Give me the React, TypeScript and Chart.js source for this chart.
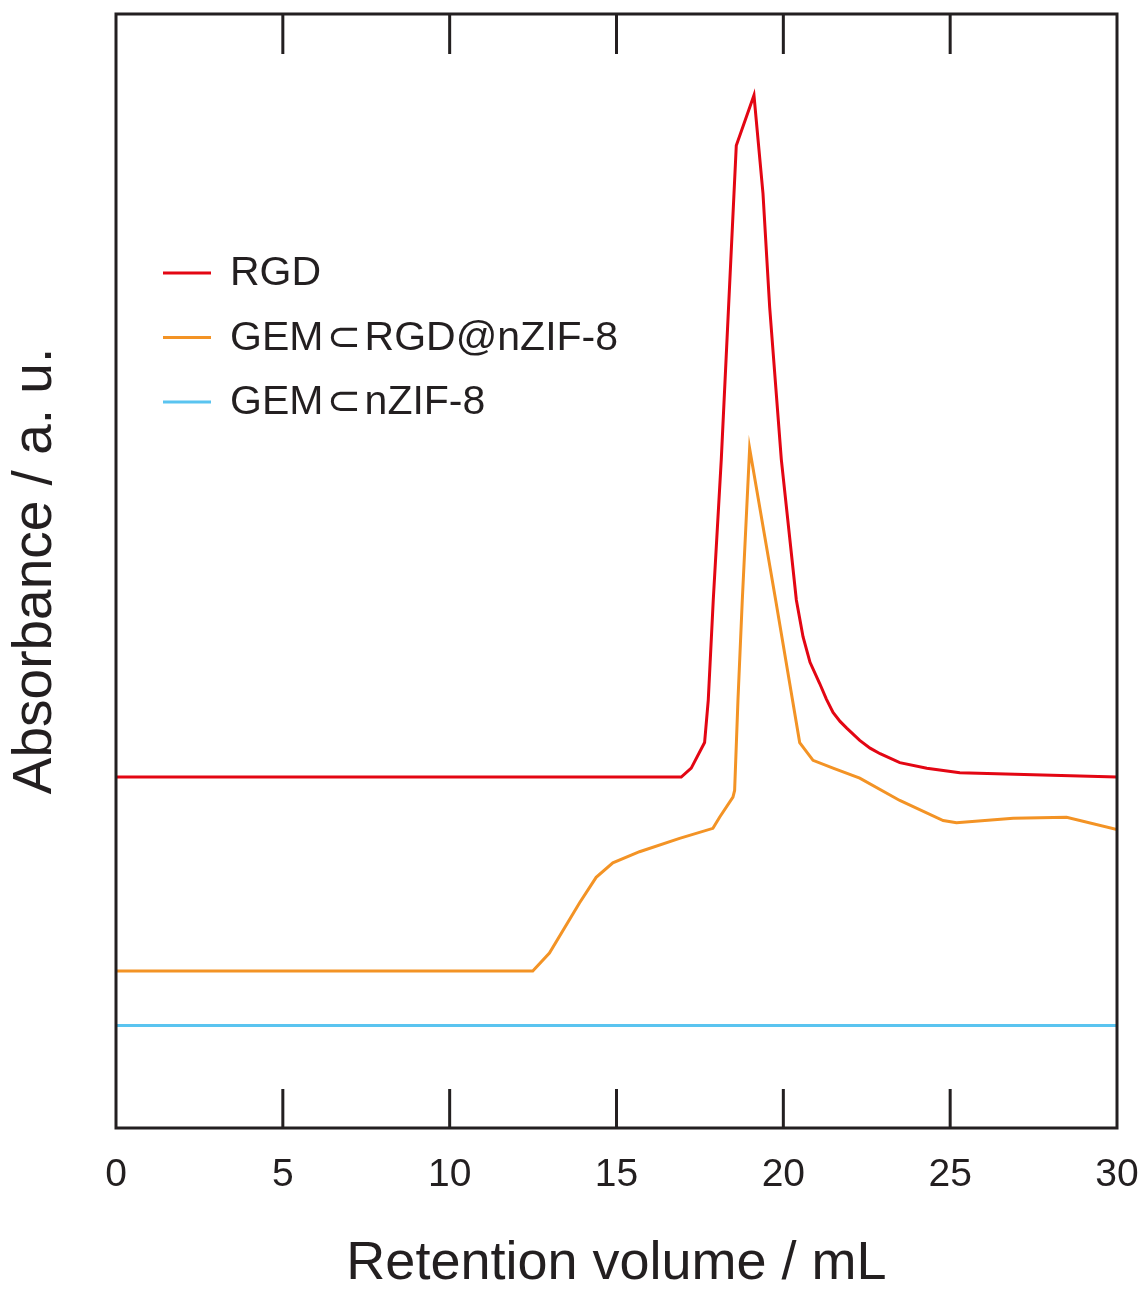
import { useEffect, useRef } from 'react'
import { Chart, registerables } from 'chart.js'

Chart.register(...registerables)

// x axis range and ticks (retention volume, mL)
const xMin = 0
const xMax = 30
const xTicks = [0, 5, 10, 15, 20, 25, 30]

// RGD trace
const rgdX = [0, 16.94, 17.24, 17.64, 17.75, 17.9, 18.14, 18.59, 19.12, 19.39, 19.59, 19.94, 20.39, 20.59, 20.8, 21.09, 21.29, 21.49, 21.7, 21.9, 22.29, 22.6, 22.9, 23.49, 24.3, 25.29, 27.49, 30]
const rgdY = [31.5, 31.5, 32.3, 34.6, 38.4, 47.4, 60.0, 88.2, 92.7, 83.9, 73.7, 60.0, 47.4, 44.1, 41.8, 39.9, 38.5, 37.3, 36.5, 35.9, 34.8, 34.1, 33.6, 32.8, 32.3, 31.9, 31.7, 31.5]

// GEM⊂RGD@nZIF-8 trace
const gemRgdX = [0, 12.49, 12.99, 13.89, 14.39, 14.89, 15.69, 16.89, 17.89, 18.09, 18.49, 18.54, 18.64, 18.77, 18.99, 19.77, 20.49, 20.89, 21.49, 22.29, 23.49, 24.79, 25.19, 26.89, 28.49, 30]
const gemRgdY = [14.1, 14.1, 15.7, 20.2, 22.5, 23.8, 24.8, 26.0, 26.9, 27.9, 29.7, 30.3, 38.4, 47.4, 61.0, 47.4, 34.6, 33.0, 32.3, 31.4, 29.4, 27.6, 27.4, 27.8, 27.9, 26.8]

// GEM⊂nZIF-8 trace
const gemX = [0, 30]
const gemY = [9.2, 9.2]

const zip = (xs: number[], ys: number[]) => xs.map((x, i) => ({ x, y: ys[i] }))

const FONT = '"Liberation Sans", Arial, "DejaVu Sans", sans-serif'
const INK = '#231f20'

// frame with inward ticks on top and bottom
const framePlugin = {
  id: 'frame',
  afterDatasetsDraw(chart: any) {
    const { ctx, chartArea, scales } = chart
    const { left, top, right, bottom } = chartArea
    ctx.save()
    ctx.strokeStyle = INK
    ctx.lineWidth = 3
    ctx.beginPath()
    xTicks.forEach((v) => {
      if (v === xMin || v === xMax) return
      const px = scales.x.getPixelForValue(v)
      ctx.moveTo(px, bottom)
      ctx.lineTo(px, bottom - 39)
      ctx.moveTo(px, top)
      ctx.lineTo(px, top + 40)
    })
    ctx.stroke()
    ctx.strokeRect(left, top, right - left, bottom - top)
    ctx.restore()
  },
}

// legend inside the plot, top left
const legendPlugin = {
  id: 'innerLegend',
  afterDraw(chart: any) {
    const { ctx } = chart
    ctx.save()
    ctx.font = `41px ${FONT}`
    ctx.textBaseline = 'middle'
    ctx.fillStyle = INK
    chart.data.datasets.forEach((ds: any, i: number) => {
      const y = 273 + i * 64.5
      ctx.strokeStyle = ds.borderColor
      ctx.lineWidth = 3
      ctx.beginPath()
      ctx.moveTo(163, y)
      ctx.lineTo(211, y)
      ctx.stroke()
      // a little air round the subset sign, as in the figure
      ctx.fillText(ds.label.replace('⊂', '\u200A⊂\u200A'), 230, y + 1)
    })
    ctx.restore()
  },
}

export default function App() {
  const chartRef = useRef<HTMLCanvasElement>(null)
  const chartInstance = useRef<Chart | null>(null)

  useEffect(() => {
    if (!chartRef.current) return
    if (chartInstance.current) chartInstance.current.destroy()

    const line = { borderWidth: 3, pointRadius: 0, tension: 0, fill: false }

    chartInstance.current = new Chart(chartRef.current, {
      type: 'line',
      data: {
        datasets: [
          { label: 'RGD', data: zip(rgdX, rgdY), borderColor: '#e30613', ...line },
          { label: 'GEM⊂RGD@nZIF-8', data: zip(gemRgdX, gemRgdY), borderColor: '#f39325', ...line },
          { label: 'GEM⊂nZIF-8', data: zip(gemX, gemY), borderColor: '#5ac4f0', ...line },
        ],
      },
      options: {
        responsive: false,
        animation: false,
        events: [],
        layout: { padding: { top: 14, right: 28, bottom: 0, left: 0 } },
        plugins: {
          legend: { display: false },
          tooltip: { enabled: false },
        },
        scales: {
          x: {
            type: 'linear',
            min: xMin,
            max: xMax,
            afterBuildTicks: (scale: any) => {
              scale.ticks = xTicks.map((value) => ({ value }))
            },
            afterFit: (scale: any) => {
              scale.height = 163
              scale.paddingLeft = 0
              scale.paddingRight = 0
            },
            grid: { display: false, drawTicks: false },
            border: { display: false },
            ticks: {
              color: INK,
              padding: 24,
              maxRotation: 0,
              font: { family: FONT, size: 39 },
            },
            title: {
              display: true,
              text: 'Retention volume / mL',
              color: INK,
              padding: { top: 0, bottom: 0 },
              font: { family: FONT, size: 54, lineHeight: 1.0 },
            },
          },
          y: {
            type: 'linear',
            min: 0,
            max: 100,
            afterFit: (scale: any) => {
              scale.width = 116
            },
            grid: { display: false, drawTicks: false },
            border: { display: false },
            ticks: { display: false },
            title: {
              display: true,
              text: 'Absorbance / a. u.',
              color: INK,
              padding: { top: 8, bottom: 0 },
              font: { family: FONT, size: 55, lineHeight: 1.0 },
            },
          },
        },
      },
      plugins: [framePlugin, legendPlugin],
    } as any)

    return () => {
      if (chartInstance.current) {
        chartInstance.current.destroy()
        chartInstance.current = null
      }
    }
  }, [])

  return (
    <div style={{ position: 'absolute', left: 0, top: 0, width: 1145, height: 1291, background: '#fff' }}>
      <canvas ref={chartRef} width={1145} height={1291} style={{ display: 'block' }}></canvas>
    </div>
  )
}
